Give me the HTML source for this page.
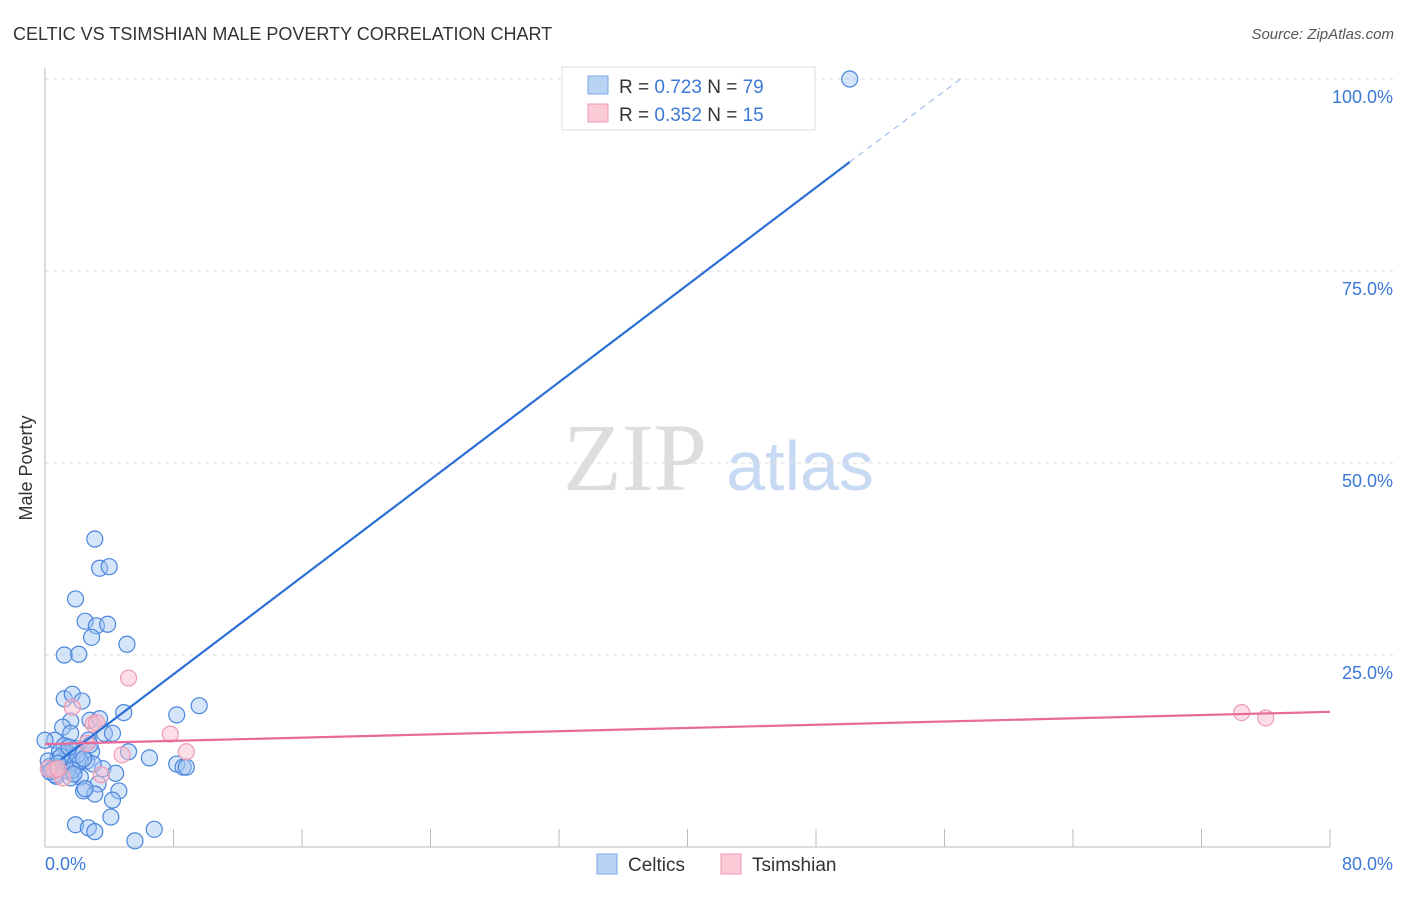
<!DOCTYPE html>
<html><head><meta charset="utf-8"><style>
body{margin:0;background:#fff;font-family:"Liberation Sans",sans-serif}
</style></head><body>
<svg width="1406" height="892" xmlns="http://www.w3.org/2000/svg">
<text x="13" y="40" font-size="18" fill="#333">CELTIC VS TSIMSHIAN MALE POVERTY CORRELATION CHART</text>
<text x="1394" y="39" font-size="15" fill="#555" font-style="italic" text-anchor="end">Source: ZipAtlas.com</text>
<text x="635" y="490" font-size="96" fill="#ddd" font-family="Liberation Serif,serif" text-anchor="middle">ZIP</text>
<text x="800" y="490" font-size="70" fill="#c8daf3" text-anchor="middle">atlas</text>
<g id="grid"></g>
<line x1="45" y1="68" x2="45" y2="847" stroke="#bbb"/>
<line x1="45" y1="847" x2="1330" y2="847" stroke="#bbb"/>
<g id="xt"></g>
<text x="20" y="456" font-size="18" fill="#333" transform="rotate(-90 32 456)" text-anchor="middle">Male Poverty</text>
<text x="45" y="870" font-size="18" fill="#3b78d8">0.0%</text>
<text x="1393" y="870" font-size="18" fill="#3b78d8" text-anchor="end">80.0%</text>
<g id="pts"></g>
<g id="lines"></g>
<g>
<rect x="562" y="67" width="253" height="63" fill="#fff" stroke="#ddd"/>
<rect x="588" y="76" width="20" height="18" fill="#b9d3f5" stroke="#7aa7e6"/>
<rect x="588" y="104" width="20" height="18" fill="#fbcbd8" stroke="#ef9ab3"/>
<text x="619" y="93" font-size="19" fill="#333">R = <tspan fill="#3b78d8">0.723</tspan>   N = <tspan fill="#3b78d8">79</tspan></text>
<text x="619" y="121" font-size="19" fill="#333">R = <tspan fill="#3b78d8">0.352</tspan>   N = <tspan fill="#3b78d8"> 15</tspan></text>
</g>
<g>
<rect x="597" y="854" width="20" height="20" fill="#b9d3f5" stroke="#7aa7e6"/>
<text x="628" y="871" font-size="19" fill="#333">Celtics</text>
<rect x="721" y="854" width="20" height="20" fill="#fbcbd8" stroke="#ef9ab3"/>
<text x="752" y="871" font-size="19" fill="#333">Tsimshian</text>
</g>
</svg>
<script>
const yTicks=[25,50,75,100];
const yTickLabels=["25.0%","50.0%","75.0%","100.0%"];
const xTicks=[0,8,16,24,32,40,48,56,64,72,80];
const celticX=[3.1,3.4,4.0,1.9,2.5,3.2,3.9,2.9,5.1,1.2,2.1,1.2,1.7,2.3,4.9,8.2,9.6,1.6,2.8,3.4,1.1,1.6,3.7,4.2,2.7,0.6,1.2,5.2,6.5,8.2,8.6,8.8,2.9,1.4,0.8,0.3,0.6,1.9,3.6,4.4,2.2,0.7,1.4,0.2,0.0,3.3,2.4,3.1,4.6,4.2,2.5,4.1,1.9,2.7,3.1,5.6,6.8,0.4,0.9,1.1,1.6,0.6,2.6,2.0,2.8,1.3,1.7,2.2,0.9,50.1,0.5,1.0,2.0,3.0,0.3,1.5,2.4,0.8,1.8];
const celticY=[40.1,36.3,36.5,32.3,29.4,28.8,29.0,27.3,26.4,25.0,25.1,19.3,19.9,19.0,17.5,17.2,18.4,16.4,16.5,16.7,15.6,14.8,14.8,14.8,13.9,13.9,13.2,12.4,11.6,10.8,10.4,10.4,12.4,12.2,11.5,10.5,9.9,10.5,10.2,9.6,9.1,9.2,9.9,11.2,13.9,8.2,7.3,6.9,7.3,6.1,7.6,3.9,2.9,2.5,2.0,0.8,2.3,10.0,10.5,11.2,9.0,9.4,11.2,12.8,13.3,11.0,10.0,11.2,12.4,100.0,10.2,11.8,12.0,10.8,9.8,13.0,11.5,10.9,9.5];
const tsimX=[5.2,1.7,3.0,2.6,7.8,8.8,4.8,3.5,1.1,0.6,0.2,74.5,76.0,3.2,0.8];
const tsimY=[22.0,18.2,16.0,13.5,14.7,12.4,12.0,9.4,9.0,10.0,10.2,17.5,16.8,16.2,10.2];
const blueTrend=[[1,11.4],[50.1,89.2]], blueDash=[[50.1,89.2],[57,100]];
const pinkTrend=[[0,13.4],[80,17.6]];
const X=v=>45+v*16.0625, Y=v=>847-v*7.68;
const NS="http://www.w3.org/2000/svg";
function mk(tag,attrs,parent){const e=document.createElementNS(NS,tag);for(const k in attrs)e.setAttribute(k,attrs[k]);document.getElementById(parent).appendChild(e);return e;}
yTicks.forEach((t,i)=>{
 const l=mk('line',{x1:45,x2:1394,y1:Y(t),y2:Y(t),stroke:'#ddd','stroke-dasharray':'4,4'},'grid');
 
 
 const tx=mk('text',{x:1393,y:Y(t)+24,'font-size':18,fill:'#3b78d8','text-anchor':'end'},'grid');
 tx.textContent=yTickLabels[i];
 
 
});
xTicks.forEach(t=>{
 const l=mk('line',{x1:X(t),x2:X(t),y1:829,y2:847,stroke:'#bbb'},'xt');
 
 
});
celticX.forEach((v,i)=>{
 const c=mk('circle',{cx:X(v),cy:Y(celticY[i]),r:8,fill:'rgba(160,196,242,0.45)',stroke:'#4a86dc','stroke-width':1.2},'pts');
 
 
});
tsimX.forEach((v,i)=>{
 const c=mk('circle',{cx:X(v),cy:Y(tsimY[i]),r:8,fill:'rgba(250,190,206,0.5)',stroke:'#ef9ab3','stroke-width':1.2},'pts');
 
 
});
let l=mk('line',{x1:X(blueTrend[0][0]),y1:Y(blueTrend[0][1]),x2:X(blueTrend[1][0]),y2:Y(blueTrend[1][1]),stroke:'#2a6fd6','stroke-width':2.2},'lines');


l=mk('line',{x1:X(blueDash[0][0]),y1:Y(blueDash[0][1]),x2:X(blueDash[1][0]),y2:Y(blueDash[1][1]),stroke:'#8fb3e6','stroke-width':1,'stroke-dasharray':'6,5'},'lines');


l=mk('line',{x1:X(pinkTrend[0][0]),y1:Y(pinkTrend[0][1]),x2:X(pinkTrend[1][0]),y2:Y(pinkTrend[1][1]),stroke:'#e8699a','stroke-width':2.2},'lines');


</script>
</body></html>
